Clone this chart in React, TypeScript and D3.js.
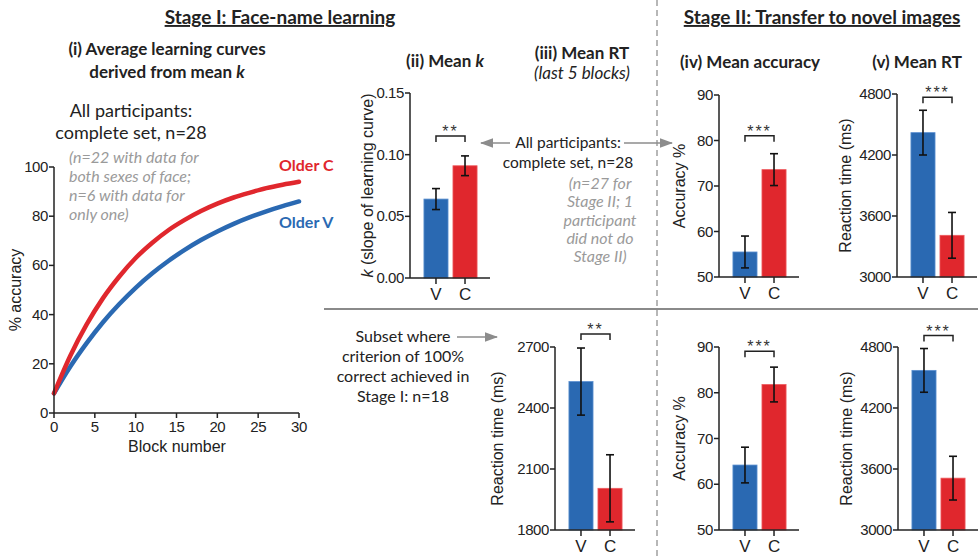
import React from 'react'
import { scaleLinear, scaleBand, line, curveMonotoneX, format } from 'd3'

// learning curves, every 2 blocks
const blocks = [0, 2, 4, 6, 8, 10, 12, 14, 16, 18, 20, 22, 24, 26, 28, 30]
const olderC = [8, 23.3, 36.0, 46.7, 55.5, 63.0, 69.1, 74.3, 78.5, 82.1, 85.1, 87.6, 89.6, 91.4, 92.8, 94.0]
const olderV = [8, 18.9, 28.4, 36.9, 44.3, 50.9, 56.7, 61.8, 66.3, 70.3, 73.8, 76.9, 79.6, 82.0, 84.1, 86.0]
const blockTicks = [0, 5, 10, 15, 20, 25, 30]
const accTicks = [0, 20, 40, 60, 80, 100]

const groups = ['V', 'C']

const meanK = [0.064, 0.091]
const meanKErr = [0.0085, 0.008]
const kTicks = [0, 0.05, 0.1, 0.15]

const rtSubsetStage1 = [2530, 2005]
const rtSubsetStage1Err = [165, 165]
const rt1Ticks = [1800, 2100, 2400, 2700]

const accAll = [55.5, 73.6]
const accAllErr = [3.5, 3.5]
const accSubset = [64.2, 81.8]
const accSubsetErr = [3.9, 3.8]
const acc2Ticks = [50, 60, 70, 80, 90]

const rtAll = [4420, 3410]
const rtAllErr = [220, 225]
const rtSubset = [4570, 3510]
const rtSubsetErr = [215, 215]
const rt2Ticks = [3000, 3600, 4200, 4800]

const BLUE = '#2a69b2'
const RED = '#e0272d'
const GREY = '#8c8c8c'
const TITLE_FONT = 'Lato, "Open Sans", sans-serif'
const AXIS_FONT = '"Liberation Sans", Arial, sans-serif'

type BarProps = {
    axisX: number, top: number, bottom: number,
    values: number[], errs: number[], ticks: number[],
    fmt?: (v: number) => string, stars: string, gap: number,
    label: React.ReactNode, labelDx: number
}

function BarPanel(p: BarProps) {
    const y = scaleLinear().domain([p.ticks[0], p.ticks[p.ticks.length - 1]]).range([p.bottom, p.top])
    const x = scaleBand().domain(groups).range([p.axisX + 9, p.axisX + 72]).paddingInner(0.17).paddingOuter(0.17)
    const bw = x.bandwidth()
    const fmt = p.fmt || ((v: number) => String(v))
    const cx = (g: string) => (x(g) || 0) + bw / 2
    const maxTop = Math.max(...p.values.map((v, i) => v + p.errs[i]))
    const by = y(maxTop) - p.gap
    return (
        <g>
            {groups.map((g, i) => (
                <g key={g}>
                    <rect x={x(g)} y={y(p.values[i])} width={bw} height={p.bottom - y(p.values[i])}
                          fill={i === 0 ? BLUE : RED} stroke={i === 0 ? '#5b8fd0' : '#ee5a5e'} strokeWidth={0.8}/>
                    <line x1={cx(g)} x2={cx(g)} y1={y(p.values[i] + p.errs[i])} y2={y(p.values[i] - p.errs[i])}
                          stroke="#111" strokeWidth={1.6}/>
                    <line x1={cx(g) - 4} x2={cx(g) + 4} y1={y(p.values[i] + p.errs[i])} y2={y(p.values[i] + p.errs[i])}
                          stroke="#111" strokeWidth={1.6}/>
                    <line x1={cx(g) - 4} x2={cx(g) + 4} y1={y(p.values[i] - p.errs[i])} y2={y(p.values[i] - p.errs[i])}
                          stroke="#111" strokeWidth={1.6}/>
                    <line x1={cx(g)} x2={cx(g)} y1={p.bottom} y2={p.bottom + 6} stroke="#222" strokeWidth={1.5}/>
                    <text x={cx(g)} y={p.bottom + 22} textAnchor="middle" fontSize={17}
                          fontFamily={AXIS_FONT} fill="#222">{g}</text>
                </g>
            ))}
            <line x1={p.axisX} x2={p.axisX} y1={p.top} y2={p.bottom} stroke="#222" strokeWidth={1.5}/>
            <line x1={p.axisX} x2={p.axisX + 80} y1={p.bottom} y2={p.bottom} stroke="#222" strokeWidth={1.5}/>
            {p.ticks.map(t => (
                <g key={t}>
                    <line x1={p.axisX - 5} x2={p.axisX} y1={y(t)} y2={y(t)} stroke="#222" strokeWidth={1.5}/>
                    <text x={p.axisX - 6} y={y(t) + 5} textAnchor="end" fontSize={15} letterSpacing={-0.4}
                          fontFamily={AXIS_FONT} fill="#222">{fmt(t)}</text>
                </g>
            ))}
            <path d={`M${cx('V')},${by + 6}V${by}H${cx('C')}V${by + 6}`} fill="none" stroke="#222" strokeWidth={1.5}/>
            <text x={(cx('V') + cx('C')) / 2} y={by + 1} textAnchor="middle" fontSize={16} letterSpacing={2}
                  fontFamily={AXIS_FONT} fill="#333">{p.stars}</text>
            <text transform={`translate(${p.axisX - p.labelDx},${(p.top + p.bottom) / 2}) rotate(-90)`}
                  textAnchor="middle" fontSize={16} fontFamily={AXIS_FONT} fill="#222">{p.label}</text>
        </g>
    )
}

function LearningCurves() {
    const x = scaleLinear().domain([0, 30]).range([54, 299])
    const y = scaleLinear().domain([0, 100]).range([413, 167])
    const gen = line<number>().x((d, i) => x(blocks[i])).y(d => y(d)).curve(curveMonotoneX)
    return (
        <g>
            <path d={gen(olderV) || ''} fill="none" stroke={BLUE} strokeWidth={4.5} strokeLinecap="round"/>
            <path d={gen(olderC) || ''} fill="none" stroke={RED} strokeWidth={4.5} strokeLinecap="round"/>
            <line x1={x(0)} x2={x(0)} y1={y(100)} y2={y(0)} stroke="#222" strokeWidth={1.5}/>
            <line x1={x(0)} x2={x(30)} y1={y(0)} y2={y(0)} stroke="#222" strokeWidth={1.5}/>
            {accTicks.map(t => (
                <g key={t}>
                    <line x1={x(0) - 5} x2={x(0)} y1={y(t)} y2={y(t)} stroke="#222" strokeWidth={1.5}/>
                    <text x={x(0) - 6} y={y(t) + 5} textAnchor="end" fontSize={15} letterSpacing={-0.4}
                          fontFamily={AXIS_FONT} fill="#222">{t}</text>
                </g>
            ))}
            {blockTicks.map(t => (
                <g key={t}>
                    <line x1={x(t)} x2={x(t)} y1={y(0)} y2={y(0) + 5} stroke="#222" strokeWidth={1.5}/>
                    <text x={x(t)} y={y(0) + 19} textAnchor="middle" fontSize={15} letterSpacing={-0.4}
                          fontFamily={AXIS_FONT} fill="#222">{t}</text>
                </g>
            ))}
            <text x={177} y={452} textAnchor="middle" fontSize={16} fontFamily={AXIS_FONT} fill="#222">Block number</text>
            <text transform="translate(21,290) rotate(-90)" textAnchor="middle" fontSize={16}
                  fontFamily={AXIS_FONT} fill="#222">% accuracy</text>
            <text x={279} y={171} fontSize={16} fontWeight="bold" fontFamily={TITLE_FONT} fill={RED}>Older C</text>
            <text x={279} y={228} fontSize={16} fontWeight="bold" fontFamily={TITLE_FONT} fill={BLUE}>Older V</text>
        </g>
    )
}

function Lines(props: { x: number, y: number, lines: string[], dy: number, size: number, italic?: boolean, anchor?: string, color?: string }) {
    return (
        <text fontFamily={TITLE_FONT} fontSize={props.size} fontStyle={props.italic ? 'italic' : 'normal'}
              fill={props.color || '#222'} textAnchor={props.anchor || 'middle'}>
            {props.lines.map((l, i) => <tspan key={i} x={props.x} y={props.y + i * props.dy}>{l}</tspan>)}
        </text>
    )
}

export default function App() {
    const f2 = format('.2f')
    return (
        <div style={{ position: 'absolute', left: 0, top: 0 }}>
            <svg width={978} height={557} style={{ display: 'block', background: '#fff' }}>
                <defs>
                    <marker id="arr" viewBox="0 0 10 10" refX="9" refY="5" markerWidth="9" markerHeight="9" orient="auto-start-reverse">
                        <path d="M0,1.5L10,5L0,8.5Z" fill={GREY}/>
                    </marker>
                </defs>

                {/* dividers */}
                <line x1={657} x2={657} y1={0} y2={557} stroke="#a0a0a0" strokeWidth={1.5} strokeDasharray="6 4"/>
                <line x1={324} x2={978} y1={309} y2={309} stroke="#8a8a8a" strokeWidth={2}/>

                {/* stage titles */}
                <text x={280} y={24} textAnchor="middle" fontSize={19} fontWeight="bold" fontFamily={TITLE_FONT}
                      fill="#222" textDecoration="underline">Stage I: Face-name learning</text>
                <text x={822} y={24} textAnchor="middle" fontSize={19} fontWeight="bold" fontFamily={TITLE_FONT}
                      fill="#222" textDecoration="underline">Stage II: Transfer to novel images</text>

                {/* panel titles */}
                <text x={167} y={55} textAnchor="middle" fontSize={17} fontWeight="bold" fontFamily={TITLE_FONT} fill="#222">(i) Average learning curves</text>
                <text x={167} y={78} textAnchor="middle" fontSize={17} fontWeight="bold" fontFamily={TITLE_FONT} fill="#222">
                    derived from mean <tspan fontStyle="italic">k</tspan></text>
                <text x={445} y={67} textAnchor="middle" fontSize={17} fontWeight="bold" fontFamily={TITLE_FONT} fill="#222">
                    (ii) Mean <tspan fontStyle="italic">k</tspan></text>
                <text x={582} y={59} textAnchor="middle" fontSize={17} fontWeight="bold" fontFamily={TITLE_FONT} fill="#222">(iii) Mean RT</text>
                <text x={582} y={79} textAnchor="middle" fontSize={17} fontStyle="italic" fontFamily={TITLE_FONT} fill="#222">(last 5 blocks)</text>
                <text x={750} y={68} textAnchor="middle" fontSize={17} fontWeight="bold" fontFamily={TITLE_FONT} fill="#222">(iv) Mean accuracy</text>
                <text x={917} y={68} textAnchor="middle" fontSize={17} fontWeight="bold" fontFamily={TITLE_FONT} fill="#222">(v) Mean RT</text>

                {/* annotations */}
                <Lines x={131} y={117} dy={22} size={18} lines={['All participants:', 'complete set, n=28']}/>
                <Lines x={69} y={163} dy={19} size={16} italic anchor="start" color="#9a9a9a"
                       lines={['(n=22 with data for', 'both sexes of face;', 'n=6 with data for', 'only one)']}/>
                <Lines x={568} y={148} dy={20} size={15.5} lines={['All participants:', 'complete set, n=28']}/>
                <Lines x={600} y={189} dy={18.3} size={16} italic color="#9a9a9a"
                       lines={['(n=27 for', 'Stage II; 1', 'participant', 'did not do', 'Stage II)']}/>
                <line x1={510} x2={481} y1={143} y2={143} stroke={GREY} strokeWidth={1.5} markerEnd="url(#arr)"/>
                <line x1={624} x2={672} y1={143} y2={143} stroke={GREY} strokeWidth={1.5} markerEnd="url(#arr)"/>
                <Lines x={403} y={342} dy={20} size={16}
                       lines={['Subset where', 'criterion of 100%', 'correct achieved in', 'Stage I: n=18']}/>
                <line x1={457} x2={497} y1={337} y2={337} stroke={GREY} strokeWidth={1.5} markerEnd="url(#arr)"/>

                <LearningCurves/>

                <BarPanel axisX={410} top={93} bottom={278} values={meanK} errs={meanKErr} ticks={kTicks}
                          fmt={f2} stars="**" gap={20} labelDx={37}
                          label={<><tspan fontStyle="italic">k</tspan> (slope of learning curve)</>}/>
                <BarPanel axisX={719} top={95} bottom={277} values={accAll} errs={accAllErr} ticks={acc2Ticks}
                          stars="***" gap={18} labelDx={34} label="Accuracy %"/>
                <BarPanel axisX={897} top={94} bottom={277} values={rtAll} errs={rtAllErr} ticks={rt2Ticks}
                          stars="***" gap={13} labelDx={46} label="Reaction time (ms)"/>
                <BarPanel axisX={555} top={347} bottom={530} values={rtSubsetStage1} errs={rtSubsetStage1Err}
                          ticks={rt1Ticks} stars="**" gap={14} labelDx={52} label="Reaction time (ms)"/>
                <BarPanel axisX={719} top={347} bottom={530} values={accSubset} errs={accSubsetErr} ticks={acc2Ticks}
                          stars="***" gap={16} labelDx={34} label="Accuracy %"/>
                <BarPanel axisX={898} top={347} bottom={530} values={rtSubset} errs={rtSubsetErr} ticks={rt2Ticks}
                          stars="***" gap={13} labelDx={46} label="Reaction time (ms)"/>
            </svg>
        </div>
    )
}
